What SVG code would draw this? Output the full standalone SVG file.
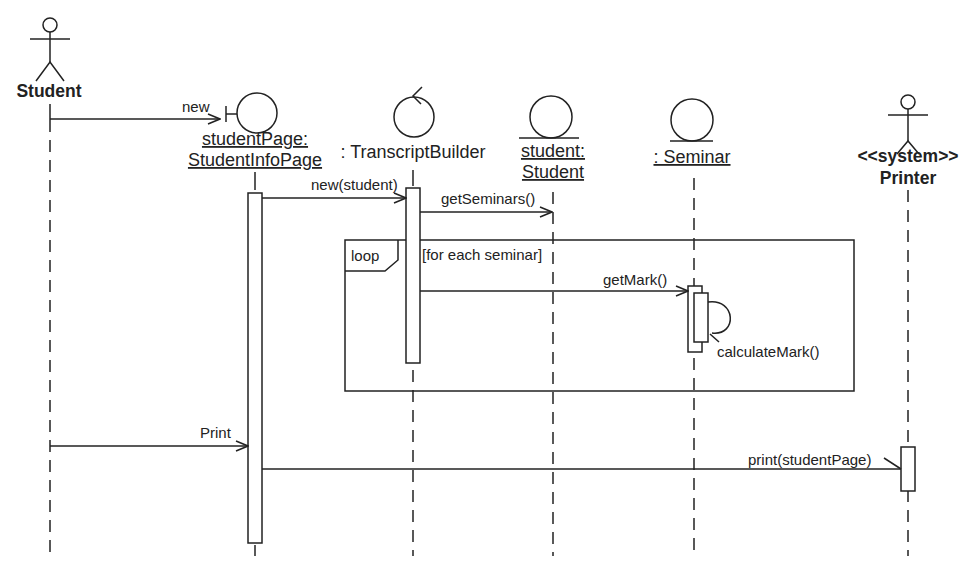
<svg xmlns="http://www.w3.org/2000/svg" width="978" height="564" viewBox="0 0 978 564">
<defs>
<style>
.ln{stroke:#222;stroke-width:1.5;fill:none}
.ll{stroke:#222;stroke-width:1.5;fill:none;stroke-dasharray:12 8}
.act{stroke:#222;stroke-width:1.5;fill:#fff}
.t{font-family:"Liberation Sans",Arial,sans-serif;font-size:15px;fill:#222}
.n{font-family:"Liberation Sans",Arial,sans-serif;font-size:18px;fill:#222}
.b{font-family:"Liberation Sans",Arial,sans-serif;font-size:17.5px;font-weight:bold;fill:#222}
.u{text-decoration:underline}
</style>
<marker id="open" markerWidth="14" markerHeight="12" refX="13" refY="6" orient="auto" markerUnits="userSpaceOnUse">
<path d="M1,1 L13,6 L1,11" fill="none" stroke="#222" stroke-width="1.5"/>
</marker>
</defs>
<rect width="978" height="564" fill="#fff"/>

<g id="frame-loop">
<rect x="345" y="240" width="509" height="151" class="ln"/>
<path d="M345,271 H385 L398,260 V240" class="ln"/>
<text x="351" y="261" class="t">loop</text>
<text x="422" y="260" class="t">[for each seminar]</text>
</g>

<g id="lifelines">
<line x1="50" y1="120" x2="50" y2="556" class="ll"/>
<line x1="255" y1="172" x2="255" y2="190" class="ln"/>
<line x1="255" y1="545" x2="255" y2="556" class="ln"/>
<line x1="413" y1="170" x2="413" y2="186" class="ln"/>
<line x1="413" y1="370" x2="413" y2="556" class="ll"/>
<line x1="553" y1="192" x2="553" y2="556" class="ll"/>
<line x1="694" y1="178" x2="694" y2="556" class="ll"/>
<line x1="908" y1="190" x2="908" y2="556" class="ll"/>
</g>

<g id="node-student">
<circle cx="50" cy="25" r="7" class="ln"/>
<line x1="30" y1="39" x2="70" y2="39" class="ln"/>
<line x1="50" y1="32" x2="50" y2="62" class="ln"/>
<path d="M36,81 L50,62 L64,81" class="ln"/>
<text x="49" y="97" text-anchor="middle" class="b">Student</text>
<line x1="50" y1="104" x2="50" y2="120" class="ln"/>
</g>

<g id="node-studentPage">
<circle cx="257" cy="113" r="20" class="ln"/>
<line x1="226" y1="106" x2="226" y2="122" class="ln"/>
<line x1="226" y1="114" x2="237" y2="114" class="ln"/>
<text x="255" y="145" text-anchor="middle" class="n u">studentPage:</text>
<text x="255" y="166" text-anchor="middle" class="n u">StudentInfoPage</text>
<rect x="248" y="193" width="14" height="350" class="act"/>
</g>

<g id="node-transcriptBuilder">
<circle cx="414" cy="117" r="20" class="ln"/>
<path d="M422,87 L413,96 L421,104" class="ln"/>
<text x="413" y="158" text-anchor="middle" class="n">: TranscriptBuilder</text>
<rect x="406" y="188" width="14" height="175" class="act"/>
</g>

<g id="node-student-entity">
<circle cx="551" cy="117" r="21" class="ln"/>
<line x1="519" y1="138" x2="579" y2="138" class="ln"/>
<text x="553" y="157" text-anchor="middle" class="n u">student:</text>
<text x="553" y="178" text-anchor="middle" class="n u">Student</text>
</g>

<g id="node-seminar">
<circle cx="692" cy="120" r="21" class="ln"/>
<line x1="670" y1="141" x2="713" y2="141" class="ln"/>
<text x="692" y="163" text-anchor="middle" class="n u">: Seminar</text>
<rect x="688" y="286" width="14" height="66" class="act"/>
<rect x="694" y="293" width="14" height="49" class="act"/>
</g>

<g id="node-printer">
<circle cx="908" cy="102" r="7" class="ln"/>
<line x1="888" y1="115" x2="928" y2="115" class="ln"/>
<line x1="908" y1="109" x2="908" y2="141" class="ln"/>
<path d="M897,154 L908,141 L919,154" class="ln"/>
<text x="908" y="162" text-anchor="middle" class="b">&lt;&lt;system&gt;&gt;</text>
<text x="908" y="184" text-anchor="middle" class="b">Printer</text>
<rect x="901" y="447" width="14" height="44" class="act"/>
</g>

<g id="connectors">
<line x1="50" y1="119" x2="220" y2="119" class="ln" marker-end="url(#open)"/>
<text x="182" y="112" class="t">new</text>
<line x1="262" y1="198" x2="406" y2="198" class="ln" marker-end="url(#open)"/>
<text x="311" y="190" class="t">new(student)</text>
<line x1="420" y1="212" x2="552" y2="212" class="ln" marker-end="url(#open)"/>
<text x="441" y="204" class="t">getSeminars()</text>
<line x1="420" y1="291" x2="688" y2="291" class="ln" marker-end="url(#open)"/>
<text x="603" y="285" class="t">getMark()</text>
<path d="M708,302 C736,298 738,336 712,333" class="ln"/>
<path d="M719,342 L710,334" class="ln"/>
<text x="717" y="357" class="t">calculateMark()</text>
<line x1="50" y1="446" x2="248" y2="446" class="ln" marker-end="url(#open)"/>
<text x="200" y="438" class="t">Print</text>
<line x1="262" y1="469" x2="901" y2="469" class="ln"/>
<path d="M884,458 L901,469" class="ln"/>
<text x="748" y="465" class="t">print(studentPage)</text>
</g>
</svg>
